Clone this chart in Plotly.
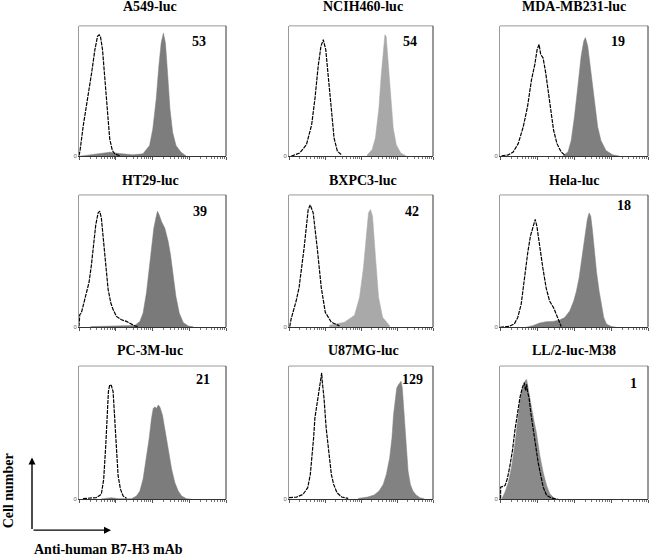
import math
import plotly.graph_objects as go

W, H = 650, 560

# ---------------- data (x: % of log-channel axis, y: % of max count) ----------------
titles = ["A549-luc", "NCIH460-luc", "MDA-MB231-luc",
          "HT29-luc", "BXPC3-luc", "Hela-luc",
          "PC-3M-luc", "U87MG-luc", "LL/2-luc-M38"]
mfi_labels = ["53", "54", "19", "39", "42", "18", "21", "129", "1"]

a549_iso_x = [0, 0.7, 2.9, 5.9, 8.6, 10.8, 12.6, 13.7, 14.6, 16.0, 17.6, 19.1, 20.9, 22.7, 24.3, 27.7]
a549_iso_y = [0.5, 4.3, 23.4, 43.7, 64.0, 81.7, 91.9, 93.1, 91.9, 81.7, 61.4, 38.6, 13.2, 4.3, 1.8, 0.3]
a549_pos_x = [0.7, 9.7, 18.7, 21.0, 27.7, 36.7, 43.5, 48.0, 50.2, 52.5, 54.3, 55.9, 57.4, 58.8, 60.4, 61.9, 63.7, 66.0, 69.4, 72.7]
a549_pos_y = [0.0, 1.5, 2.5, 3.0, 2.0, 1.0, 1.8, 8.1, 20.8, 43.7, 69.0, 86.8, 94.4, 86.8, 61.4, 36.0, 18.3, 8.1, 3.0, 0.3]

ncih_iso_x = [1.6, 7.5, 12.1, 15.7, 18.0, 20.3, 22.2, 23.8, 25.5, 27.3, 29.2, 31.3, 33.6, 36.7]
ncih_iso_y = [0.0, 2.5, 8.8, 23.9, 44.0, 69.3, 84.4, 89.4, 81.9, 61.7, 36.5, 13.9, 3.8, 0.8]
ncih_pos_x = [54.2, 57.7, 60.0, 62.4, 64.0, 65.4, 66.6, 67.5, 68.7, 70.6, 72.4, 74.5, 77.6, 81.1]
ncih_pos_y = [0.8, 5.0, 13.9, 36.5, 61.7, 81.9, 93.2, 91.9, 74.3, 44.0, 21.4, 8.8, 2.5, 0.3]

mda_iso_x = [1.1, 5.6, 8.9, 12.3, 15.7, 18.6, 21.3, 23.5, 25.1, 26.4, 27.5, 29.1, 30.9, 32.4, 34.2, 36.2, 38.5, 41.4, 43.6]
mda_iso_y = [0.3, 1.0, 3.1, 9.6, 22.5, 38.0, 58.7, 70.3, 81.9, 85.8, 78.0, 75.5, 63.8, 50.9, 35.4, 19.9, 9.6, 3.1, 1.0]
mda_pos_x = [42.5, 45.9, 48.1, 50.3, 52.6, 54.8, 56.6, 57.7, 59.3, 61.5, 63.8, 66.0, 68.2, 71.6, 76.1, 80.5]
mda_pos_y = [0.3, 3.1, 12.1, 30.2, 53.5, 76.7, 88.4, 91.0, 84.5, 63.8, 40.6, 22.5, 12.1, 4.4, 1.0, 0.2]

ht29_iso_x = [0, 0.5, 1.6, 3.9, 5.5, 6.8, 8.4, 10.0, 11.4, 13.0, 14.1, 15.2, 16.4, 18.2, 19.8, 21.6, 23.2, 25.5, 28.9, 32.3, 35.7, 38.0, 40.2]
ht29_iso_y = [0.5, 9.5, 10.8, 21.0, 28.7, 33.8, 46.7, 62.0, 77.4, 86.4, 87.7, 82.6, 67.2, 46.7, 28.7, 18.5, 13.3, 8.2, 5.6, 4.4, 2.6, 1.0, 0.5]
ht29_pos_x = [8.0, 20.0, 32.0, 38.0, 41.4, 43.6, 45.9, 47.7, 49.3, 50.9, 52.3, 53.4, 54.5, 56.1, 58.4, 60.7, 62.3, 64.1, 65.9, 68.2, 70.9, 74.3, 77.7]
ht29_pos_y = [0.5, 1.0, 1.0, 1.3, 4.4, 10.8, 26.2, 44.1, 62.0, 74.9, 82.6, 87.7, 85.1, 80.0, 74.9, 64.6, 54.4, 39.0, 23.6, 10.8, 3.6, 1.0, 0.3]

bxpc_iso_x = [0.5, 1.4, 5.0, 7.0, 10.5, 13.3, 14.7, 16.8, 19.6, 22.4, 25.2, 29.4, 35.0]
bxpc_iso_y = [0.5, 6.0, 20.0, 30.0, 60.0, 88.7, 92.5, 86.5, 60.0, 30.0, 11.3, 3.8, 1.0]
bxpc_pos_x = [28.0, 38.5, 45.5, 49.0, 51.7, 53.8, 55.2, 56.6, 58.0, 60.1, 62.2, 65.0, 70.0]
bxpc_pos_y = [1.5, 3.8, 9.0, 22.6, 45.0, 67.7, 86.5, 89.0, 84.0, 52.6, 22.6, 7.5, 1.0]

hela_iso_x = [0, 6.3, 9.7, 12.0, 14.3, 16.5, 18.8, 20.6, 22.2, 23.8, 24.9, 26.7, 29.0, 31.2, 33.5, 36.2, 38.0, 39.8, 41.4]
hela_iso_y = [0.0, 0.7, 2.5, 7.4, 17.3, 37.0, 56.8, 69.1, 76.5, 81.5, 76.5, 61.7, 44.4, 29.6, 19.8, 14.8, 9.9, 3.7, 0.5]
hela_pos_x = [17.6, 22.2, 26.7, 31.2, 35.7, 40.3, 43.7, 47.1, 49.8, 51.6, 53.4, 55.0, 56.6, 57.9, 59.0, 60.2, 61.3, 62.4, 63.6, 65.2, 67.0, 68.6, 70.1, 71.9, 75.3, 78.7]
hela_pos_y = [0.0, 1.2, 3.2, 4.2, 4.4, 5.4, 7.4, 12.3, 19.8, 27.2, 37.0, 49.4, 61.7, 74.1, 81.5, 86.4, 84.0, 74.1, 59.3, 42.0, 27.2, 17.3, 7.4, 2.5, 0.5, 0.0]

pc3m_iso_x = [2.7, 11.8, 15.2, 16.8, 18.2, 19.1, 20.0, 20.9, 22.0, 23.2, 24.3, 25.5, 26.6, 28.2, 30.0, 32.3]
pc3m_iso_y = [0.5, 1.3, 3.8, 15.2, 40.4, 65.7, 80.8, 85.9, 85.4, 80.8, 60.6, 35.4, 17.7, 7.6, 2.5, 0.8]
pc3m_pos_x = [15.0, 22.0, 27.0, 35.7, 39.1, 41.4, 43.6, 45.9, 47.7, 49.3, 50.5, 51.6, 52.7, 53.9, 55.0, 56.8, 58.4, 60.7, 63.0, 65.2, 67.5, 69.8, 73.2, 76.6]
pc3m_pos_y = [0.3, 1.2, 0.5, 0.5, 2.5, 6.3, 15.2, 30.3, 45.5, 60.6, 68.2, 69.4, 68.2, 70.7, 69.4, 63.1, 53.0, 37.9, 22.7, 12.6, 6.3, 2.5, 0.5, 0.0]

u87_iso_x = [0, 5.2, 9.7, 13.0, 14.8, 16.0, 17.1, 18.0, 18.7, 19.8, 20.9, 22.0, 22.7, 23.1, 24.3, 25.8, 27.6, 29.4, 31.0, 33.3, 36.6, 41.1]
u87_iso_y = [1.2, 1.7, 3.7, 8.7, 18.7, 31.2, 46.1, 61.1, 66.1, 71.1, 81.0, 88.5, 94.8, 88.5, 76.1, 53.6, 33.7, 18.7, 11.2, 5.0, 1.7, 0.7]
u87_pos_x = [47.9, 54.6, 59.1, 62.5, 65.4, 67.6, 69.9, 71.5, 72.6, 73.7, 74.8, 76.0, 77.1, 77.8, 78.7, 79.8, 81.1, 82.7, 84.3, 86.1, 88.3, 91.0, 93.9]
u87_pos_y = [0.7, 1.7, 3.2, 6.2, 11.2, 18.7, 31.2, 46.1, 63.6, 76.1, 83.5, 86.0, 87.3, 88.5, 83.5, 66.1, 41.1, 21.2, 11.2, 6.2, 3.2, 1.2, 0.5]

ll2_iso_x = [0.4, 0.4, 3.4, 4.9, 6.7, 8.5, 10.1, 11.9, 13.5, 15.1, 16.4, 17.3, 18.0, 18.7, 19.6, 20.9, 22.5, 24.3, 25.8, 27.6, 29.2, 31.5, 34.8, 39.3]
ll2_iso_y = [0.5, 9.1, 10.3, 15.2, 25.0, 37.3, 52.0, 66.7, 76.5, 83.8, 87.5, 81.4, 86.3, 80.1, 76.5, 64.2, 52.0, 39.7, 27.5, 17.6, 9.1, 2.9, 1.0, 0.0]
ll2_pos_x = [1.1, 3.4, 5.6, 7.9, 10.1, 11.7, 13.5, 15.3, 16.9, 18.0, 19.1, 20.2, 21.3, 22.9, 24.7, 27.0, 29.2, 31.5, 33.7, 36.0, 38.2]
ll2_pos_y = [0.0, 5.4, 12.7, 25.0, 42.2, 59.3, 74.0, 83.8, 88.7, 90.0, 83.8, 76.5, 69.1, 59.3, 49.5, 32.4, 20.1, 10.3, 4.2, 1.5, 0.0]

iso_x = [a549_iso_x, ncih_iso_x, mda_iso_x, ht29_iso_x, bxpc_iso_x, hela_iso_x, pc3m_iso_x, u87_iso_x, ll2_iso_x]
iso_y = [a549_iso_y, ncih_iso_y, mda_iso_y, ht29_iso_y, bxpc_iso_y, hela_iso_y, pc3m_iso_y, u87_iso_y, ll2_iso_y]
pos_x = [a549_pos_x, ncih_pos_x, mda_pos_x, ht29_pos_x, bxpc_pos_x, hela_pos_x, pc3m_pos_x, u87_pos_x, ll2_pos_x]
pos_y = [a549_pos_y, ncih_pos_y, mda_pos_y, ht29_pos_y, bxpc_pos_y, hela_pos_y, pc3m_pos_y, u87_pos_y, ll2_pos_y]

fill_colors = ["#7d7d7d", "#a8a8a8", "#7f7f7f", "#7a7a7a", "#a9a9a9", "#7f7f7f", "#7c7c7c", "#828282", "#8a8a8a"]

# ---------------- layout (pixel frames) ----------------
col_px = [(79, 226), (289, 433), (500, 648)]
row_px = [(26, 157), (196, 329), (368, 502)]
title_y = [7, 181, 352]
title_x = [150, 363, 574]
lab_pos = [(0.816, 0.878), (0.84, 0.878), (0.80, 0.878),
           (0.823, 0.872), (0.854, 0.872), (0.838, 0.917),
           (0.844, 0.90), (0.86, 0.90), (0.90, 0.866)]

SERIF = "Liberation Serif, Times New Roman, serif"

def px2x(p):
    return p / W

def px2y(p):
    return 1 - p / H

major = [0, 25, 50, 75, 100]
minor = [25 * (d + math.log10(k)) for d in range(4) for k in range(2, 10)]

fig = go.Figure()
layout = dict(width=W, height=H, margin=dict(l=0, r=0, t=0, b=0),
              paper_bgcolor="white", plot_bgcolor="white", showlegend=False)
annotations = []
shapes = []

for i in range(9):
    r, c = divmod(i, 3)
    n = "" if i == 0 else str(i + 1)
    xa, ya = "x" + n, "y" + n
    x0, x1 = col_px[c]
    y0, y1 = row_px[r]
    layout["xaxis" + n] = dict(domain=[px2x(x0), px2x(x1)], range=[0, 100], anchor=ya,
                               showgrid=False, zeroline=False, showline=True,
                               linecolor="#333333", linewidth=1, mirror=False,
                               tickvals=major, ticktext=[""] * 5, ticks="outside",
                               ticklen=3, tickcolor="#555555", tickwidth=1,
                               minor=dict(tickvals=minor, ticks="outside", ticklen=2,
                                          tickcolor="#777777", tickwidth=1, showgrid=False))
    layout["yaxis" + n] = dict(domain=[px2y(y1), px2y(y0)], range=[0, 100], anchor=xa,
                               showgrid=False, zeroline=False, showline=True,
                               linecolor="#9a9a9a", linewidth=1, mirror=False,
                               tickvals=[0], ticktext=["0"], ticks="",
                               tickfont=dict(size=6, color="#666666", family="Arial"))
    # top (grey) and right (dark) frame lines
    shapes.append(dict(type="line", xref=xa + " domain", yref=ya + " domain",
                       x0=0, x1=1, y0=1, y1=1, line=dict(color="#9a9a9a", width=1)))
    shapes.append(dict(type="line", xref=xa + " domain", yref=ya + " domain",
                       x0=1, x1=1, y0=0, y1=1, line=dict(color="#333333", width=1)))

    fig.add_trace(go.Scatter(x=pos_x[i], y=pos_y[i], mode="lines", fill="tozeroy",
                             fillcolor=fill_colors[i], line=dict(color=fill_colors[i], width=0.5),
                             xaxis=xa, yaxis=ya, hoverinfo="skip"))
    fig.add_trace(go.Scatter(x=iso_x[i], y=iso_y[i], mode="lines",
                             line=dict(color="black", width=1.2, dash="4px,1px"),
                             xaxis=xa, yaxis=ya, hoverinfo="skip"))

    annotations.append(dict(text="<b>" + titles[i] + "</b>", x=px2x(title_x[c]), y=px2y(title_y[r]),
                            xref="paper", yref="paper", showarrow=False,
                            xanchor="center", yanchor="middle",
                            font=dict(family=SERIF, size=14, color="black")))
    lx, ly = lab_pos[i]
    annotations.append(dict(text="<b>" + mfi_labels[i] + "</b>", x=lx, y=ly,
                            xref=xa + " domain", yref=ya + " domain", showarrow=False,
                            xanchor="center", yanchor="middle",
                            font=dict(family=SERIF, size=14, color="black")))

# axis arrows and labels
annotations.append(dict(x=px2x(32), y=px2y(460), xref="paper", yref="paper", text="",
                        showarrow=True, ax=0, ay=73, arrowhead=2, arrowsize=1,
                        arrowwidth=1.4, arrowcolor="black"))
annotations.append(dict(x=px2x(111), y=px2y(533), xref="paper", yref="paper", text="",
                        showarrow=True, ax=-79, ay=0, arrowhead=2, arrowsize=1,
                        arrowwidth=1.4, arrowcolor="black"))
annotations.append(dict(text="<b>Cell number</b>", x=px2x(8), y=px2y(494), xref="paper", yref="paper",
                        showarrow=False, textangle=-90, xanchor="center", yanchor="middle",
                        font=dict(family=SERIF, size=14, color="black")))
annotations.append(dict(text="<b>Anti-human B7-H3 mAb</b>", x=px2x(108), y=px2y(552),
                        xref="paper", yref="paper", showarrow=False,
                        xanchor="center", yanchor="middle",
                        font=dict(family=SERIF, size=14, color="black")))

layout["annotations"] = annotations
layout["shapes"] = shapes
fig.update_layout(**layout)
fig.write_html("out.html", config={"displayModeBar": False},
               post_script="document.body.style.margin='0';document.body.style.overflow='hidden';")
